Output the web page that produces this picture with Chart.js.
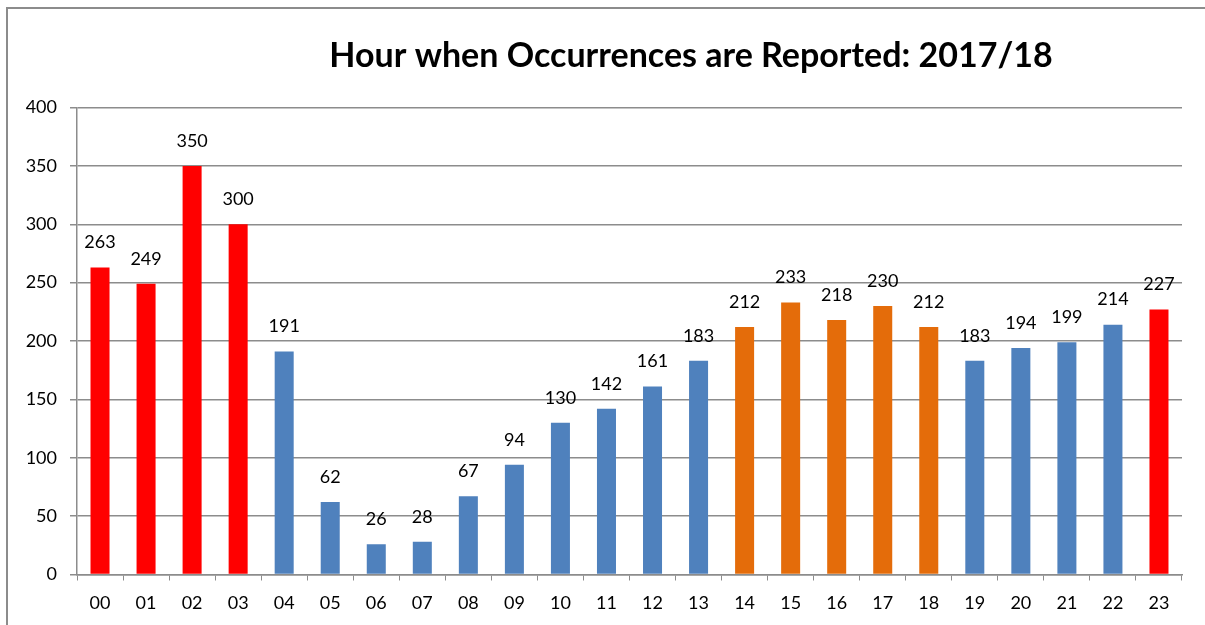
<!DOCTYPE html>
<html>
<head>
<meta charset="utf-8">
<script src="https://cdn.jsdelivr.net/npm/chart.js@4.4.0/dist/chart.umd.min.js"></script>
<style>
  html, body { margin: 0; padding: 0; background: #fff; overflow: hidden; }
  #wrap { position: relative; width: 1205px; height: 625px; }
  #frame { position: absolute; left: 6px; top: 7px; width: 1300px; height: 700px; border: 2px solid #8c8c8c; box-sizing: border-box; pointer-events: none; }
  canvas { position: absolute; left: 0; top: 0; }
</style>
</head>
<body>
<div id="wrap">
  <div id="frame"></div>
  <canvas id="c" width="1205" height="625"></canvas>
</div>
<script>
const title = 'Hour when Occurrences are Reported: 2017/18';
const hours = ['00','01','02','03','04','05','06','07','08','09','10','11','12','13','14','15','16','17','18','19','20','21','22','23'];
const counts = [263, 249, 350, 300, 191, 62, 26, 28, 67, 94, 130, 142, 161, 183, 212, 233, 218, 230, 212, 183, 194, 199, 214, 227];
const groups = ['r','r','r','r','b','b','b','b','b','b','b','b','b','b','o','o','o','o','o','b','b','b','b','r'];
const yTicks = [0, 50, 100, 150, 200, 250, 300, 350, 400];

const palette = { r: '#FF0000', b: '#4F81BD', o: '#E46C0A' };
const FONT = 'Lato, Carlito, Calibri, sans-serif';

const valueLabels = {
  id: 'valueLabels',
  afterDatasetsDraw(chart) {
    const ctx = chart.ctx;
    const meta = chart.getDatasetMeta(0);
    ctx.save();
    ctx.font = '18px ' + FONT;
    ctx.fillStyle = '#000';
    ctx.textAlign = 'center';
    ctx.textBaseline = 'middle';
    meta.data.forEach((bar, i) => {
      ctx.fillText(String(counts[i]), bar.x, bar.y - 25);
    });
    ctx.restore();
  }
};

const titlePlugin = {
  id: 'customTitle',
  afterDraw(chart) {
    const ctx = chart.ctx;
    ctx.save();
    ctx.font = 'bold 34px ' + FONT;
    ctx.fillStyle = '#000';
    ctx.textAlign = 'center';
    ctx.textBaseline = 'middle';
    ctx.fillText(title, 691, 56);
    ctx.restore();
  }
};

new Chart(document.getElementById('c'), {
  type: 'bar',
  data: {
    labels: hours,
    datasets: [{
      data: counts,
      backgroundColor: groups.map(g => palette[g]),
      borderWidth: 0,
      barPercentage: 1,
      categoryPercentage: 0.413
    }]
  },
  options: {
    responsive: false,
    animation: false,
    devicePixelRatio: 1,
    layout: { padding: { top: 107.5, right: 23, left: 0, bottom: 0 } },
    plugins: {
      legend: { display: false },
      tooltip: { enabled: false },
      title: { display: false }
    },
    scales: {
      x: {
        afterFit(scale) { scale.height = 50.5; },
        grid: { offset: true, drawOnChartArea: false, drawTicks: true, tickLength: 6, color: '#8c8c8c', lineWidth: 1 },
        border: { display: true, color: '#8c8c8c', width: 1.5 },
        ticks: { color: '#000', font: { family: FONT, size: 18 }, padding: 12, maxRotation: 0, autoSkip: false }
      },
      y: {
        min: 0, max: 400,
        afterFit(scale) { scale.width = 77; },
        afterBuildTicks(scale) { scale.ticks = yTicks.map(v => ({ value: v })); },
        grid: { drawTicks: true, tickLength: 7, color: '#8c8c8c', lineWidth: 1.5 },
        border: { display: true, color: '#8c8c8c', width: 1.5 },
        ticks: { color: '#000', font: { family: FONT, size: 18 }, padding: 13 }
      }
    }
  },
  plugins: [valueLabels, titlePlugin]
});
</script>
</body>
</html>
